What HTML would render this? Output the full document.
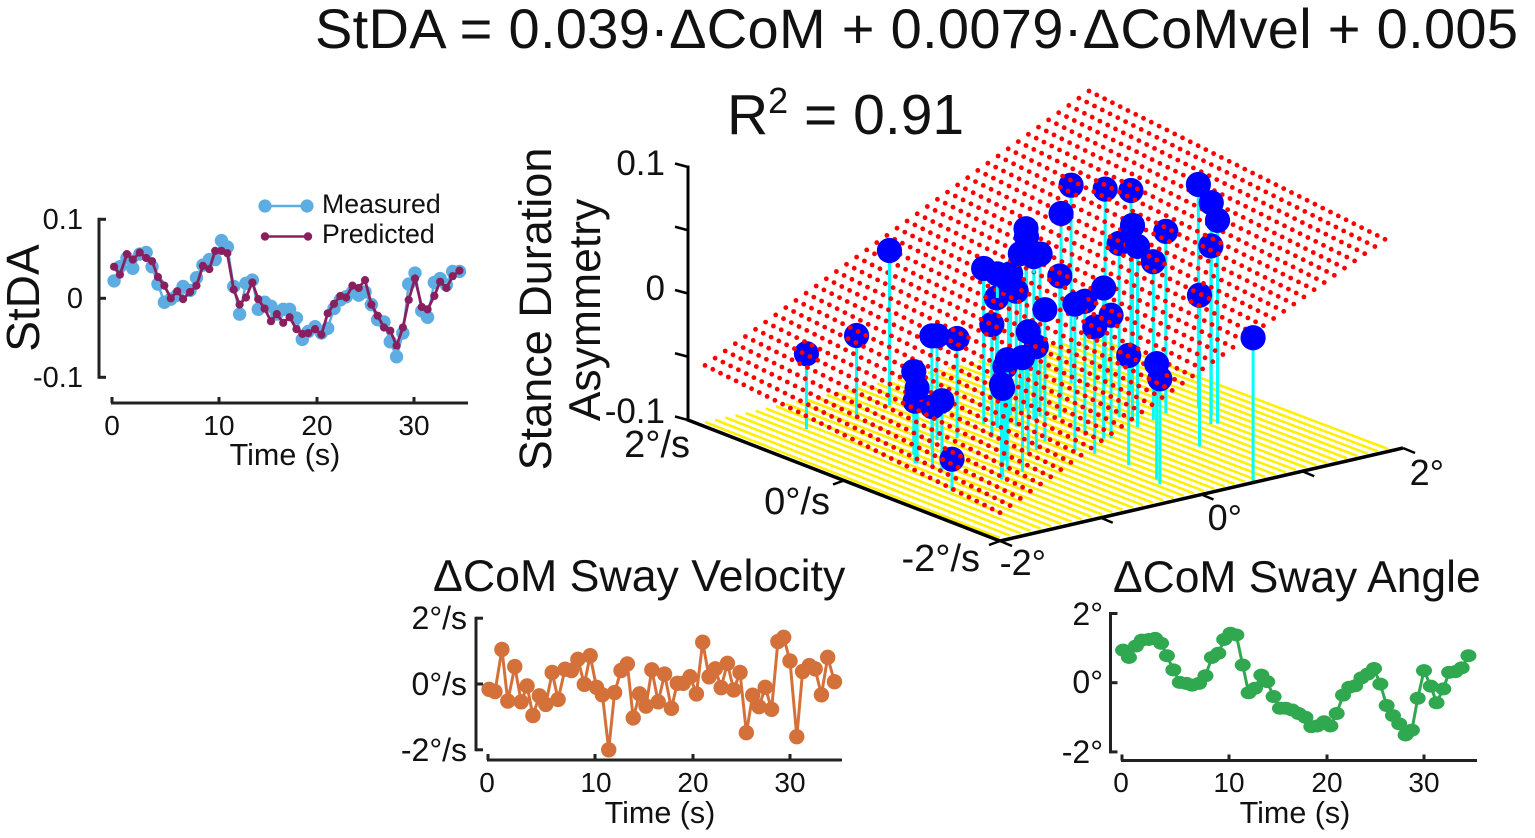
<!DOCTYPE html>
<html lang="en">
<head>
<meta charset="utf-8">
<title>Stance Duration Asymmetry regression</title>
<style>
html,body{margin:0;padding:0;background:#fff;}
svg{display:block;}
text{font-family:"Liberation Sans",sans-serif;fill:#111;}
</style>
</head>
<body>
<svg id="fig" width="1535" height="838" viewBox="0 0 1535 838" xmlns="http://www.w3.org/2000/svg">
  <text x="315" y="48" font-size="56" textLength="1203">StDA = 0.039·ΔCoM + 0.0079·ΔCoMvel + 0.005</text>
  <text x="727" y="134" font-size="57">R<tspan font-size="36" dy="-21">2</tspan><tspan dy="21"> = 0.91</tspan></text>

  <g id="panel-stda">
    <text transform="translate(39,298) rotate(-90)" text-anchor="middle" font-size="46">StDA</text>
    <text x="83" y="229" text-anchor="end" font-size="29">0.1</text>
    <text x="83" y="308" text-anchor="end" font-size="29">0</text>
    <text x="83" y="387" text-anchor="end" font-size="29">-0.1</text>
    <text x="112" y="435" text-anchor="middle" font-size="28">0</text>
    <text x="219" y="435" text-anchor="middle" font-size="28">10</text>
    <text x="317" y="435" text-anchor="middle" font-size="28">20</text>
    <text x="414" y="435" text-anchor="middle" font-size="28">30</text>
    <text x="285" y="465" text-anchor="middle" font-size="30.5">Time (s)</text>
    <g>
      <line x1="265" y1="206" x2="307" y2="206" stroke="#5dade2" stroke-width="2.5"/>
      <circle cx="265" cy="206" r="6.6" fill="#5dade2"/>
      <circle cx="307" cy="206" r="6.6" fill="#5dade2"/>
      <text x="322" y="213" font-size="26.7">Measured</text>
      <line x1="265" y1="236.5" x2="308" y2="236.5" stroke="#8a1f5f" stroke-width="2.5"/>
      <circle cx="265" cy="236.5" r="4.2" fill="#8a1f5f"/>
      <circle cx="308" cy="236.5" r="4.2" fill="#8a1f5f"/>
      <text x="322" y="243" font-size="26.7">Predicted</text>
    </g>
  </g>

  <g id="panel-3d">
    <text transform="translate(551,309) rotate(-90)" text-anchor="middle" font-size="45">Stance Duration</text>
    <text transform="translate(600,310) rotate(-90)" text-anchor="middle" font-size="44.5">Asymmetry</text>
    <text x="665" y="175" text-anchor="end" font-size="35">0.1</text>
    <text x="665" y="300" text-anchor="end" font-size="35">0</text>
    <text x="665" y="423" text-anchor="end" font-size="35">-0.1</text>
    <text x="690" y="457" text-anchor="end" font-size="38">2°/s</text>
    <text x="830" y="514" text-anchor="end" font-size="38">0°/s</text>
    <text x="980" y="571" text-anchor="end" font-size="38">-2°/s</text>
    <text x="1046" y="575" text-anchor="end" font-size="36">-2°</text>
    <text x="1242" y="530" text-anchor="end" font-size="36">0°</text>
    <text x="1444" y="485" text-anchor="end" font-size="36">2°</text>
  </g>

  <g id="panel-velocity">
    <text x="433" y="591" font-size="44.7">ΔCoM Sway Velocity</text>
    <text x="467" y="629" text-anchor="end" font-size="32">2°/s</text>
    <text x="467" y="695" text-anchor="end" font-size="32">0°/s</text>
    <text x="467" y="761" text-anchor="end" font-size="32">-2°/s</text>
    <text x="487" y="792" text-anchor="middle" font-size="28">0</text>
    <text x="596" y="792" text-anchor="middle" font-size="28">10</text>
    <text x="693" y="792" text-anchor="middle" font-size="28">20</text>
    <text x="790" y="792" text-anchor="middle" font-size="28">30</text>
    <text x="660" y="823" text-anchor="middle" font-size="30.5">Time (s)</text>
  </g>

  <g id="panel-angle">
    <text x="1113" y="592" font-size="44.4">ΔCoM Sway Angle</text>
    <text x="1103" y="625" text-anchor="end" font-size="32">2°</text>
    <text x="1103" y="693" text-anchor="end" font-size="32">0°</text>
    <text x="1103" y="763" text-anchor="end" font-size="32">-2°</text>
    <text x="1121" y="792" text-anchor="middle" font-size="28">0</text>
    <text x="1229" y="792" text-anchor="middle" font-size="28">10</text>
    <text x="1327" y="792" text-anchor="middle" font-size="28">20</text>
    <text x="1424" y="792" text-anchor="middle" font-size="28">30</text>
    <text x="1295" y="823" text-anchor="middle" font-size="30.5">Time (s)</text>
  </g>
</svg>

<script>
const sampleTimes = [0.1,0.65,1.3,1.85,2.5,3.1,3.65,4.2,4.8,5.4,6,6.55,7.2,7.8,8.4,9,9.55,10.15,10.75,11.4,12,12.65,13.3,13.9,14.55,15.2,15.8,16.45,17.1,17.8,18.4,19,19.7,20.35,21,21.65,22.3,22.9,23.55,24.2,24.85,25.5,26.15,26.8,27.45,28.1,28.75,29.35,30,30.7,31.3,32,32.6,33.25,33.9,34.6];
const measuredStda = [.022,.04,.051,.038,.056,.058,.04,.018,-.005,-.001,.004,.015,.01,.026,.042,.049,.049,.073,.065,.015,-.02,.019,.023,-.014,-.005,-.01,-.02,-.014,-.014,-.025,-.052,-.042,-.036,-.044,-.038,-.013,-.002,.002,.008,.004,.008,-.008,-.027,-.03,-.055,-.074,-.044,.018,.032,-.016,-.024,.02,.025,.017,.034,.034];
const predictedStda = [.04,.03,.056,.049,.058,.051,.047,.027,.016,0,.009,-.001,.008,.016,.041,.037,.06,.06,.057,.011,-.008,.001,.02,-.001,-.013,-.029,-.02,-.031,-.024,-.039,-.045,-.044,-.039,-.046,-.019,-.007,.003,.001,.016,.013,.023,-.008,-.022,-.037,-.041,-.06,-.037,-.002,.025,-.011,-.014,.003,.021,.013,.028,.035];
const comVelocity = [-.16,-.23,1.05,-.52,.53,-.54,-.06,-.96,-.36,-.62,.35,-.47,.45,.41,.75,-.01,.86,-.1,-.33,-2,-.26,.41,.61,-1.03,-.3,-.67,.43,-.54,.3,-.74,.02,.02,.22,-.3,1.27,.22,.46,-.11,.63,-.18,.35,-1.48,-.34,-.69,-.1,-.77,1.29,1.42,.7,-1.6,.38,.56,.46,-.33,.81,.07];
const comAngle = [.94,.73,1.06,1.23,1.25,1.28,1.14,.78,.37,.01,-.02,-.07,-.02,.2,.73,.85,1.25,1.43,1.38,.51,-.29,-.16,.22,.03,-.4,-.74,-.74,-.79,-.89,-1,-1.27,-1.25,-1.13,-1.25,-.89,-.36,-.13,-.09,.14,.25,.41,-.04,-.66,-.95,-1.19,-1.51,-1.37,-.45,.35,-.1,-.58,-.18,.3,.32,.43,.78];
const timeTicks = [0,10,20,30];
const stdaTicks = [-0.1,0,0.1];
const velocityTicks = [-2,0,2];
const angleTicks = [-2,0,2];
const zTicks = [-0.1,-0.05,0,0.05,0.1];
const floorAngleTicks = [-2,-1,0,1,2];
const floorVelocityTicks = [-2,0];
const fitCoefficients = [0.039,0.0079,0.005];
const planeGridDivisions = 38;

const NS = 'http://www.w3.org/2000/svg';
function mk(parent, tag, attrs){
  const el = document.createElementNS(NS, tag);
  for (const k in attrs) el.setAttribute(k, attrs[k]);
  parent.appendChild(el);
  return el;
}
function timeX(t, x0){
  const dom = [0,10,20,30,36];
  const rng = [0,107,205,302,360];
  let i = 0;
  while (i < dom.length-2 && t > dom[i+1]) i++;
  return x0 + rng[i] + (t-dom[i])/(dom[i+1]-dom[i])*(rng[i+1]-rng[i]);
}
function linY(zeroY, pxPerUnit){
  return function(v){ return zeroY - v*pxPerUnit; };
}
function drawAxes(group, prefix, yFn, yTicks, axisX, x0, x1, axisY, stroke){
  const yLine = mk(group,'line',{x1:axisX,x2:axisX,y1:yFn(yTicks[yTicks.length-1])-1.5,y2:yFn(yTicks[0])+1.5,stroke:stroke,'stroke-width':3});
  
  
  yTicks.forEach(function(v){
    const tk = mk(group,'line',{x1:axisX,x2:axisX+7,y1:yFn(v),y2:yFn(v),stroke:stroke,'stroke-width':3});
    
    
  });
  const xLine = mk(group,'line',{x1:x0-1,x2:x1,y1:axisY,y2:axisY,stroke:stroke,'stroke-width':3});
  
  
  timeTicks.forEach(function(t){
    const tk = mk(group,'line',{x1:timeX(t,x0),x2:timeX(t,x0),y1:axisY,y2:axisY-6,stroke:stroke,'stroke-width':3});
    
    
  });
}
function linePath(values, x0, yFn){
  return values.map(function(v,i){ return (i?'L':'M') + timeX(sampleTimes[i],x0).toFixed(1) + ' ' + yFn(v).toFixed(1); }).join('');
}

/* STDA panel */
const gA = document.getElementById('panel-stda');
const yA = linY(298.3, 790);
drawAxes(gA,'stda',yA,stdaTicks,99,112,468,403,'#222');
const measuredLine = mk(gA,'path',{d:linePath(measuredStda,113,yA),fill:'none',stroke:'#5dade2','stroke-width':2.5});


measuredStda.forEach(function(v,i){
  const c = mk(gA,'circle',{cx:timeX(sampleTimes[i],113),cy:yA(v),r:6.7,fill:'#5dade2'});
  
  
});
const predictedLine = mk(gA,'path',{d:linePath(predictedStda,113,yA),fill:'none',stroke:'#8a1f5f','stroke-width':2.8});


predictedStda.forEach(function(v,i){
  const c = mk(gA,'circle',{cx:timeX(sampleTimes[i],113),cy:yA(v),r:4.1,fill:'#8a1f5f'});
  
  
});

/* Velocity panel */
const gB = document.getElementById('panel-velocity');
const yB = linY(684, 32.9);
drawAxes(gB,'velocity',yB,velocityTicks,476,488,842,760,'#222');
const velocityLine = mk(gB,'path',{d:linePath(comVelocity,488,yB),fill:'none',stroke:'#d4703a','stroke-width':3});


comVelocity.forEach(function(v,i){
  const c = mk(gB,'circle',{cx:timeX(sampleTimes[i],488),cy:yB(v),r:7.7,fill:'#d4703a'});
  
  
});

/* Angle panel */
const gC = document.getElementById('panel-angle');
const yC = linY(682.7, 34.6);
drawAxes(gC,'angle',yC,angleTicks,1110.5,1122,1477,760.5,'#222');
const angleLine = mk(gC,'path',{d:linePath(comAngle,1122,yC),fill:'none',stroke:'#2fa84f','stroke-width':3});


comAngle.forEach(function(v,i){
  const c = mk(gC,'ellipse',{cx:timeX(sampleTimes[i],1122),cy:yC(v),rx:8,ry:6.5,fill:'#2fa84f'});
  
  
});

/* 3D panel: bilinear floor projection */
const floorZ = -0.1125;
const zPx = 1150;
function floorXY(a, v){
  const u = (a+2)/4, w = (v+2)/4;
  const x = (1-u)*(1-w)*1000 + u*(1-w)*1388 + (1-u)*w*705 + u*w*1090;
  const y = (1-u)*(1-w)*538 + u*(1-w)*449 + (1-u)*w*422 + u*w*336;
  return [x,y];
}
/* plane surface projection */
function planeXY(a, v){
  const u = (a+2)/4, w = (v+2)/4;
  const p = floorXY(a,v);
  const z = planeZ(a,v);
  const dx = u*(1-w)*(-3) + u*w*(-1);
  const dy = (1-u)*(1-w)*2 + u*(1-w)*(-3) + (1-u)*w*7 + u*w*(-2);
  return [p[0]+dx, p[1] - (z-floorZ)*zPx + dy];
}
/* scatter projection */
function scatterBase(a, v){
  const p = floorXY(a,v);
  return [1072 + 1.05*(p[0]-1071), p[1]];
}
function scatterTop(a, v, z){
  const p = floorXY(a,v);
  const y = p[1] - (z-floorZ)*zPx;
  return [1072 + 1.05*(p[0]-1071), y + 0.087*(y-310)];
}
function planeZ(a, v){
  return fitCoefficients[0]*a + fitCoefficients[1]*v + fitCoefficients[2];
}
function axisFloor(a, v){
  const u = (a+2)/4, w = (v+2)/4;
  return [1000 + u*403 - w*312, 541 - u*93 - w*121];
}
const g3 = document.getElementById('panel-3d');

/* floor lines */
for (let i = 0; i <= planeGridDivisions; i++){
  const a = -2 + 4*i/planeGridDivisions;
  const p0 = floorXY(a,-2), p1 = floorXY(a,2);
  const fl = mk(g3,'line',{x1:p0[0],y1:p0[1],x2:p1[0],y2:p1[1],stroke:'#fff000','stroke-width':2.6});
  
  
}

/* order points back to front */
const order = comAngle.map(function(_,i){ return i; }).sort(function(p,q){
  return floorXY(comAngle[p],comVelocity[p])[1] - floorXY(comAngle[q],comVelocity[q])[1];
});

/* stems (full height) and below-plane markers, behind the plane dots */
order.forEach(function(i){
  const top = scatterTop(comAngle[i],comVelocity[i],measuredStda[i]);
  const base = scatterBase(comAngle[i],comVelocity[i]);
  const s = mk(g3,'line',{x1:top[0],y1:top[1],x2:base[0],y2:base[1],stroke:'#00ffff','stroke-width':3});
  
  
});
order.forEach(function(i){
  if (measuredStda[i] <= planeZ(comAngle[i],comVelocity[i])){
    const top = scatterTop(comAngle[i],comVelocity[i],measuredStda[i]);
    const c = mk(g3,'circle',{cx:top[0],cy:top[1],r:12.6,fill:'#0000ff'});
    
    
  }
});

/* plane dots */
for (let i = 0; i <= planeGridDivisions; i++){
  for (let j = 0; j <= planeGridDivisions; j++){
    const a = -2 + 4*i/planeGridDivisions;
    const v = -2 + 4*j/planeGridDivisions;
    const p = planeXY(a,v);
    const d = mk(g3,'circle',{cx:p[0].toFixed(1),cy:p[1].toFixed(1),r:2.4,fill:'#ff0000'});
    
    
  }
}

/* parts above the plane */
order.forEach(function(i){
  const pz = planeZ(comAngle[i],comVelocity[i]);
  if (measuredStda[i] > pz){
    const top = scatterTop(comAngle[i],comVelocity[i],measuredStda[i]);
    const mid = planeXY(comAngle[i],comVelocity[i]);
    const s = mk(g3,'line',{x1:top[0],y1:top[1],x2:top[0],y2:Math.max(mid[1],top[1]),stroke:'#00ffff','stroke-width':3});
    
    
  }
});
order.forEach(function(i){
  if (measuredStda[i] > planeZ(comAngle[i],comVelocity[i])){
    const top = scatterTop(comAngle[i],comVelocity[i],measuredStda[i]);
    const c = mk(g3,'circle',{cx:top[0],cy:top[1],r:12.6,fill:'#0000ff'});
    
    
  }
});

/* 3D axes */
function zAxisY(z){ return 293.5 - z*1265; }
const zLine = mk(g3,'line',{x1:688,x2:688,y1:zAxisY(zTicks[zTicks.length-1])-1.5,y2:zAxisY(zTicks[0])+1.5,stroke:'#000','stroke-width':3});


zTicks.forEach(function(z){
  const t = mk(g3,'line',{x1:688,y1:zAxisY(z),x2:675,y2:zAxisY(z)-3.5,stroke:'#000','stroke-width':2.5});
  
  
});
const o = axisFloor(-2,-2), aEnd = axisFloor(2,-2), vEnd = axisFloor(-2,2);
const angleAxis = mk(g3,'line',{x1:o[0],y1:o[1],x2:aEnd[0],y2:aEnd[1],stroke:'#000','stroke-width':3.5});


const velocityAxis = mk(g3,'line',{x1:o[0],y1:o[1],x2:vEnd[0],y2:vEnd[1],stroke:'#000','stroke-width':3.5});


floorAngleTicks.forEach(function(a){
  const p = axisFloor(a,-2);
  const t = mk(g3,'line',{x1:p[0],y1:p[1],x2:p[0]+12,y2:p[1]+5,stroke:'#000','stroke-width':2.5});
  
  
});
floorVelocityTicks.forEach(function(v){
  const p = axisFloor(-2,v);
  const t = mk(g3,'line',{x1:p[0],y1:p[1],x2:p[0]-11,y2:p[1]+4,stroke:'#000','stroke-width':2.5});
  
  
});
</script>
</body>
</html>
